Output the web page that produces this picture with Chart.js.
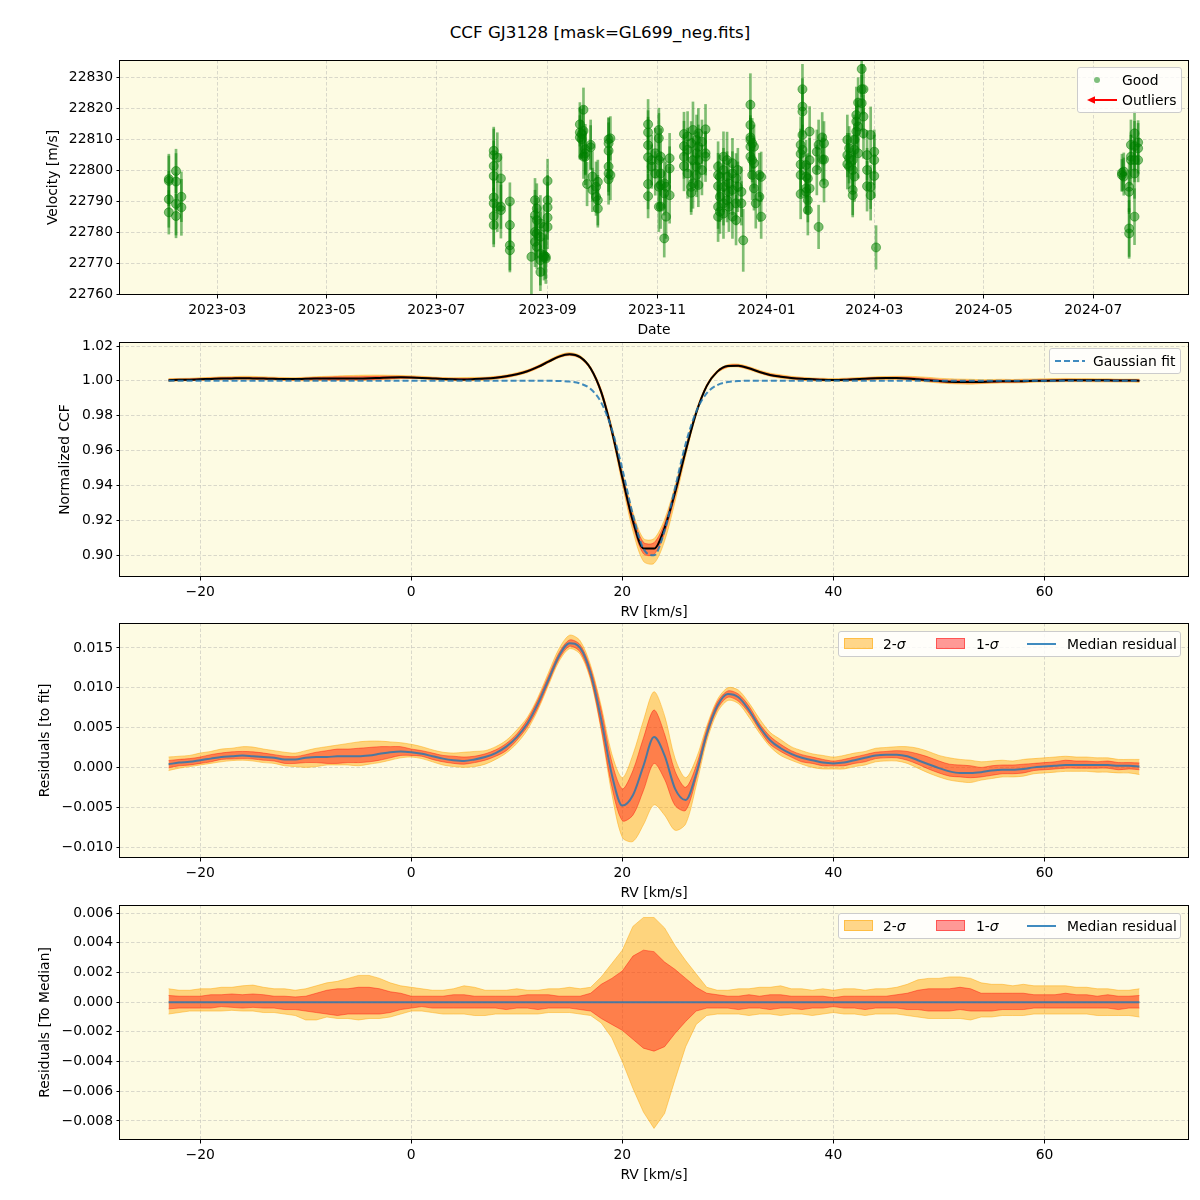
<!DOCTYPE html>
<html><head><meta charset="utf-8">
<script src="https://cdn.jsdelivr.net/npm/chart.js@4.4.0/dist/chart.umd.min.js"></script>
<style>
body{margin:0;background:#fff;width:1200px;height:1200px;position:relative;overflow:hidden;font-family:"DejaVu Sans",sans-serif;}
canvas.cv{position:absolute;left:0;}
#title{position:absolute;top:22px;left:0;width:1200px;text-align:center;font-size:16.7px;line-height:20px;color:#000;}
.legend{position:absolute;background:rgba(255,255,255,0.8);border:1px solid #cccccc;border-radius:3px;box-sizing:border-box;}
.lt{position:absolute;font-size:13.9px;line-height:16px;color:#000;white-space:nowrap;}
.patch{position:absolute;box-sizing:border-box;}
</style></head>
<body>
<div id="title">CCF GJ3128 [mask=GL699_neg.fits]</div>
<canvas id="c1" class="cv" width="1200" height="300" style="top:47px"></canvas>
<canvas id="c2" class="cv" width="1200" height="300" style="top:329px"></canvas>
<canvas id="c3" class="cv" width="1200" height="300" style="top:610px"></canvas>
<canvas id="c4" class="cv" width="1200" height="300" style="top:892px"></canvas>

<div class="legend" style="left:1077px;top:67px;width:105px;height:46px;">
  <span class="patch" style="left:16px;top:9px;width:6px;height:6px;border-radius:3px;background:rgba(0,128,0,0.5)"></span>
  <span class="lt" style="left:44px;top:4px">Good</span>
  <svg style="position:absolute;left:6px;top:26px" width="36" height="12"><line x1="33" y1="6" x2="7" y2="6" stroke="red" stroke-width="2"/><polygon points="3,6 11,2.2 11,9.8" fill="red"/></svg>
  <span class="lt" style="left:44px;top:24px">Outliers</span>
</div>
<div class="legend" style="left:1049px;top:348px;width:132px;height:26px;">
  <svg style="position:absolute;left:4px;top:7px" width="32" height="10"><line x1="1" y1="5" x2="31" y2="5" stroke="rgba(31,119,180,0.85)" stroke-width="2" stroke-dasharray="6,3"/></svg>
  <span class="lt" style="left:43px;top:4px">Gaussian fit</span>
</div>
<div class="legend" style="left:838px;top:631px;width:343px;height:26px;">
  <span class="patch" style="left:5px;top:6px;width:29px;height:11px;background:rgba(255,165,0,0.45);border:1px solid rgba(255,165,0,0.5)"></span>
  <span class="lt" style="left:44px;top:4px">2-<i>σ</i></span>
  <span class="patch" style="left:97px;top:6px;width:29px;height:11px;background:rgba(255,0,0,0.4);border:1px solid rgba(255,0,0,0.45)"></span>
  <span class="lt" style="left:137px;top:4px">1-<i>σ</i></span>
  <span class="patch" style="left:188px;top:11px;width:29px;height:2px;background:rgba(31,119,180,0.85)"></span>
  <span class="lt" style="left:228px;top:4px">Median residual</span>
</div>
<div class="legend" style="left:838px;top:913px;width:343px;height:26px;">
  <span class="patch" style="left:5px;top:6px;width:29px;height:11px;background:rgba(255,165,0,0.45);border:1px solid rgba(255,165,0,0.5)"></span>
  <span class="lt" style="left:44px;top:4px">2-<i>σ</i></span>
  <span class="patch" style="left:97px;top:6px;width:29px;height:11px;background:rgba(255,0,0,0.4);border:1px solid rgba(255,0,0,0.45)"></span>
  <span class="lt" style="left:137px;top:4px">1-<i>σ</i></span>
  <span class="patch" style="left:188px;top:11px;width:29px;height:2px;background:rgba(31,119,180,0.85)"></span>
  <span class="lt" style="left:228px;top:4px">Median residual</span>
</div>

<script>
// ---------------- DATA ----------------
// Panel 1: RV time series, grouped by night
const nightDates = ["2023-02-02","2023-02-06","2023-02-09","2023-08-02","2023-08-04","2023-08-06","2023-08-11","2023-08-23","2023-08-25","2023-08-26","2023-08-28","2023-08-30","2023-08-31","2023-09-01","2023-09-19","2023-09-20","2023-09-21","2023-09-22","2023-09-23","2023-09-25","2023-09-26","2023-09-28","2023-09-29","2023-10-05","2023-10-06","2023-10-27","2023-10-29","2023-10-31","2023-11-02","2023-11-03","2023-11-05","2023-11-06","2023-11-08","2023-11-16","2023-11-18","2023-11-20","2023-11-21","2023-11-23","2023-11-24","2023-11-26","2023-11-28","2023-12-05","2023-12-06","2023-12-08","2023-12-10","2023-12-11","2023-12-13","2023-12-15","2023-12-16","2023-12-18","2023-12-19","2023-12-23","2023-12-24","2023-12-25","2023-12-26","2023-12-28","2023-12-29","2024-01-20","2024-01-21","2024-01-23","2024-01-24","2024-01-25","2024-01-29","2024-01-30","2024-02-01","2024-02-02","2024-02-15","2024-02-16","2024-02-18","2024-02-19","2024-02-20","2024-02-21","2024-02-23","2024-02-24","2024-02-26","2024-02-28","2024-03-01","2024-03-02","2024-07-17","2024-07-18","2024-07-21","2024-07-22","2024-07-24","2024-07-26"];
const nightVel = [
[22797.2,22796.6,22790.7,22786.5],[22799.8,22796.4,22789.2,22785.3],[22791.5,22788.1],
[22806.3,22804.9,22801.4,22798.2,22791.3,22789.4,22785.3,22782.4],[22804.1,22788.3],[22797.4,22788.3,22787.2],
[22790.0,22782.4,22775.9,22774.3],[22772.2],[22790.4,22785.6,22780.2,22777.0],[22787.7,22784.0,22779.7,22775.4],
[22782.9,22778.6,22773.2,22771.1,22767.3],[22781.8,22772.7,22772.2],[22772.2,22771.6],[22796.6,22790.4,22788.1,22784.8,22781.8],
[22814.8,22812.2,22810.6],[22811.7,22810.0],[22819.5,22812.7,22804.4],[22806.8,22805.5,22804.4],[22795.6],
[22808.2,22807.4],[22798.0,22793.7],[22794.7,22791.5],[22796.3,22790.4,22787.7],
[22810.0,22808.7,22806.3,22801.2,22799.0,22797.1],[22810.3,22798.5],
[22814.8,22812.2,22808.1,22804.2,22795.6,22791.7],[22803.3,22801.2],[22805.5,22799.0],
[22813.0,22810.3,22803.3,22794.7,22788.3],[22804.4,22799.0,22795.3,22788.3],[22795.8,22792.6,22778.1],
[22794.7,22785.1],[22803.9,22800.6,22792.0],
[22811.7,22807.8,22804.4,22801.4],[22810.9,22806.6,22799.0],[22808.7,22794.7,22792.8],[22813.0,22803.3,22795.8],
[22809.8,22805.5,22801.2,22798.5],[22811.9,22807.6,22803.3,22795.3],[22809.2,22800.1],[22813.2,22805.5,22804.4],
[22801.2,22798.5,22794.9,22788.3,22785.1],[22797.9,22791.5,22786.7],[22804.4,22800.1,22794.7,22789.4,22786.1],
[22803.3,22798.0,22790.4],[22795.8,22793.1,22788.3],[22802.3,22799.0,22793.7,22785.1],[22797.4,22789.4,22784.0],
[22800.1,22794.7],[22793.1,22789.4],[22777.5],
[22821.1,22814.6,22810.6,22809.8,22807.6,22804.4],[22808.7,22803.3,22798.5],[22807.6,22802.3,22794.2],[22789.4],
[22798.5,22791.5],[22797.9,22785.1],
[22808.2,22805.3,22801.9,22798.5,22792.4],[22826.1,22820.5,22818.9,22811.4,22806.6],[22801.7,22798.0,22794.2,22793.1],
[22797.4,22790.4,22787.2],[22812.5,22803.3,22794.2],[22806.0,22800.1],[22808.2,22781.8],[22810.6,22803.5],
[22808.7,22803.5,22795.8],
[22809.8,22804.9,22802.0],[22807.1,22803.9,22801.2],[22803.3,22800.1,22793.7,22792.0],[22809.8,22806.6,22798.0],
[22817.8,22815.7,22812.5],[22821.8,22814.1,22805.5],[22832.6,22826.1,22821.6],[22826.1,22817.3,22811.9],
[22804.9,22800.1,22794.9],[22811.4,22794.7,22792.0],[22806.0,22803.3,22798.2],[22775.2],
[22799.2,22798.5],[22799.6,22798.0],[22794.7,22793.1,22781.3,22779.7],[22808.2,22804.4,22803.3],
[22811.9,22807.8,22803.3,22799.0,22785.1],[22809.0,22807.1,22803.3]
];
const nightErr = [
[8,8,9,7],[7,9,10,7],[8,9],
[7,9,8,8,10,8,9,7],[8,8],[8,7,9],
[6,7,8,7],[13],[7,8,9,8],[8,7,8,7],
[9,8,7,8,6],[7,8,6],[7,8],[7,8,8,7,7],
[7,8,7],[8,6],[7,8,7],[8,7,9],[7],
[8,7],[8,7],[8,6],[7,8,6],
[7,8,9,8,7,8],[7,8],
[8,7,9,7,8,7],[8,7],[8,7],
[7,8,8,7,8],[9,7,8,7],[8,7,6],
[8,7],[8,7,9],
[7,8,7,8],[8,7,8],[7,8,7],[9,7,8],
[8,7,8,7],[8,7,9,7],[7,8],[8,7,8],
[8,7,8,7,8],[7,8,7],[8,7,8,7,8],
[9,8,7],[8,7,8],[8,7,8,7],[8,7,8],
[7,8],[8,7],[10],
[10,8,7,7,8,7],[8,7,8],[7,8,7],[8],
[7,8],[8,7],
[9,8,8,7,8],[8,9,8,7,8],[8,7,8,7],
[8,7,8],[8,7,8],[7,8],[8,7],[8,7],
[7,8,6],
[8,7,8],[7,8,7],[8,7,8,7],[8,7,8],
[9,7,8],[8,7,8],[9,8,9],[8,7,8],
[8,7,8],[9,7,8],[7,8,7],[7],
[6,5],[6,6],[8,7,9,8],[8,7,8],
[7,8,7,8,9],[7,8,7]
];
const dateTickLabels = ["2023-03","2023-05","2023-07","2023-09","2023-11","2024-01","2024-03","2024-05","2024-07"];
const velTicks = [22760,22770,22780,22790,22800,22810,22820,22830];

// Panels 2-4: CCF profiles vs RV
const rv = [-23,-22,-21,-20,-19,-18,-17,-16,-15,-14,-13,-12,-11,-10,-9,-8,-7,-6,-5,-4,-3,-2,-1,0,1,2,3,4,5,6,7,8,9,10,11,12,13,14,15,16,17,18,19,20,21,22,23,24,25,26,27,28,29,30,31,32,33,34,35,36,37,38,39,40,41,42,43,44,45,46,47,48,49,50,51,52,53,54,55,56,57,58,59,60,61,62,63,64,65,66,67,68,69];
const ccfMedian = [1.0004,1.0006,1.0007,1.0009,1.0011,1.0013,1.0014,1.0015,1.0014,1.0013,1.0012,1.0010,1.0010,1.0012,1.0013,1.0013,1.0014,1.0014,1.0014,1.0015,1.0017,1.0019,1.0020,1.0019,1.0017,1.0014,1.0011,1.0009,1.0008,1.0010,1.0013,1.0018,1.0026,1.0038,1.0055,1.0080,1.0110,1.0139,1.0152,1.0136,1.0071,0.9935,0.9714,0.9445,0.9196,0.9038,0.9037,0.9155,0.9360,0.9598,0.9816,0.9971,1.0053,1.0085,1.0087,1.0072,1.0051,1.0034,1.0024,1.0017,1.0012,1.0009,1.0006,1.0005,1.0006,1.0009,1.0012,1.0015,1.0016,1.0016,1.0014,1.0009,1.0004,0.9999,0.9995,0.9993,0.9993,0.9994,0.9996,0.9997,0.9997,0.9998,1.0000,1.0001,1.0002,1.0003,1.0003,1.0003,1.0003,1.0003,1.0002,1.0002,1.0001];
const gaussFit = [1,1,1,1,1,1,1,1,1,1,1,1,1,1,1,1,1,1,1,1,1,1,1,1,1,1,1,1,1,1,1,1,1,1,1,1,1,0.9999,0.9996,0.9985,0.9953,0.9875,0.9723,0.9493,0.9231,0.9036,0.8999,0.9140,0.9387,0.9639,0.9824,0.9929,0.9976,0.9993,0.9999,1,1,1,1,1,1,1,1,1,1,1,1,1,1,1,1,1,1,1,1,1,1,1,1,1,1,1,1,1,1,1,1,1,1,1,1,1,1];
const residMedian = [0.0004,0.0006,0.0007,0.0009,0.0011,0.0013,0.0014,0.0015,0.0014,0.0013,0.0012,0.0010,0.0010,0.0012,0.0013,0.0013,0.0014,0.0014,0.0014,0.0015,0.0017,0.0019,0.0020,0.0019,0.0017,0.0014,0.0011,0.0009,0.0008,0.0010,0.0013,0.0018,0.0026,0.0038,0.0055,0.0080,0.0110,0.0140,0.0156,0.0150,0.0118,0.0060,-0.0009,-0.0048,-0.0035,0.0002,0.0038,0.0015,-0.0027,-0.0041,-0.0008,0.0042,0.0077,0.0092,0.0088,0.0072,0.0051,0.0034,0.0024,0.0017,0.0012,0.0009,0.0006,0.0005,0.0006,0.0009,0.0012,0.0015,0.0016,0.0016,0.0014,0.0009,0.0004,-0.0001,-0.0005,-0.0007,-0.0007,-0.0006,-0.0004,-0.0003,-0.0003,-0.0002,0.0000,0.0001,0.0002,0.0003,0.0003,0.0003,0.0003,0.0003,0.0002,0.0002,0.0001];
// spread of residuals around the median (panel 4)
const sig2Hi = [0.0009,0.0008,0.0008,0.0009,0.0009,0.0010,0.0010,0.0011,0.00115,0.0010,0.0009,0.0009,0.0008,0.0009,0.0011,0.0013,0.0014,0.0016,0.0018,0.0018,0.0016,0.0013,0.0011,0.0010,0.0009,0.0008,0.0008,0.0009,0.0011,0.0010,0.0008,0.0008,0.0008,0.0009,0.0008,0.0008,0.0009,0.0009,0.0010,0.0009,0.0010,0.0017,0.0026,0.0035,0.0051,0.0057,0.0057,0.0050,0.0038,0.0028,0.0019,0.0010,0.0008,0.0008,0.0009,0.0009,0.0010,0.0010,0.0011,0.0009,0.0009,0.0008,0.0009,0.0008,0.0009,0.0009,0.0008,0.0009,0.0009,0.0010,0.0012,0.0015,0.0016,0.0016,0.0017,0.0017,0.0016,0.0013,0.0012,0.0012,0.0011,0.0012,0.0011,0.0011,0.0011,0.0011,0.0010,0.0010,0.0009,0.0009,0.0008,0.0008,0.0009];
const sig1Hi = [0.00045,0.0004,0.0004,0.0004,0.0005,0.0005,0.00055,0.0005,0.00055,0.0005,0.0004,0.0004,0.00035,0.0004,0.0006,0.0008,0.0009,0.0009,0.0010,0.0010,0.0009,0.0007,0.0006,0.0004,0.0004,0.0004,0.0004,0.0005,0.0005,0.0004,0.0004,0.0004,0.0004,0.0004,0.0005,0.0005,0.0005,0.0004,0.0004,0.0004,0.0006,0.0012,0.0016,0.0021,0.0031,0.0035,0.0034,0.0027,0.0022,0.0016,0.0010,0.0006,0.0005,0.0004,0.0004,0.0005,0.0004,0.0005,0.0005,0.0004,0.0004,0.0004,0.0004,0.0003,0.0004,0.0004,0.0004,0.0004,0.0004,0.0005,0.0006,0.0008,0.0009,0.0009,0.0009,0.0010,0.0009,0.0006,0.0006,0.0006,0.0006,0.0006,0.0005,0.0005,0.0005,0.0006,0.0005,0.0005,0.0004,0.0005,0.0004,0.0004,0.00045];
const sig1Lo = [-0.00045,-0.0004,-0.0004,-0.0004,-0.0004,-0.0003,-0.00035,-0.0004,-0.00035,-0.0004,-0.0004,-0.0005,-0.0005,-0.0006,-0.0007,-0.0008,-0.0009,-0.0008,-0.0008,-0.0008,-0.0008,-0.0007,-0.0005,-0.0004,-0.0003,-0.0004,-0.0004,-0.0004,-0.0004,-0.0004,-0.0004,-0.0004,-0.0005,-0.0004,-0.0004,-0.0005,-0.0004,-0.0004,-0.0004,-0.0005,-0.0006,-0.0011,-0.0015,-0.0019,-0.0025,-0.0031,-0.0033,-0.0030,-0.0021,-0.0013,-0.0006,-0.0004,-0.0004,-0.0004,-0.0005,-0.0004,-0.0004,-0.0005,-0.0004,-0.0004,-0.0005,-0.0004,-0.0004,-0.0003,-0.0004,-0.0004,-0.0005,-0.0004,-0.0004,-0.0004,-0.0005,-0.0005,-0.0006,-0.0006,-0.0006,-0.0005,-0.0006,-0.0006,-0.0006,-0.0005,-0.0005,-0.0005,-0.0004,-0.0004,-0.0004,-0.0004,-0.0004,-0.0004,-0.0004,-0.0004,-0.0005,-0.0004,-0.0004];
const sig2Lo = [-0.0008,-0.0007,-0.0006,-0.0006,-0.0006,-0.0006,-0.00055,-0.0006,-0.0006,-0.0007,-0.0007,-0.0008,-0.0009,-0.0012,-0.0012,-0.0010,-0.0011,-0.0011,-0.0012,-0.0011,-0.0011,-0.0010,-0.0008,-0.0006,-0.0006,-0.0007,-0.0008,-0.0008,-0.0008,-0.0009,-0.0009,-0.0008,-0.0008,-0.0008,-0.0008,-0.0008,-0.0007,-0.0007,-0.0007,-0.0008,-0.0009,-0.0014,-0.0024,-0.0040,-0.0058,-0.0074,-0.0085,-0.0075,-0.0052,-0.0030,-0.0015,-0.0009,-0.0008,-0.0008,-0.0008,-0.0009,-0.0008,-0.0008,-0.0009,-0.0008,-0.0008,-0.0009,-0.0008,-0.0007,-0.0008,-0.0008,-0.0009,-0.0008,-0.0008,-0.0008,-0.0009,-0.0010,-0.0011,-0.0011,-0.0011,-0.0011,-0.0012,-0.0010,-0.0010,-0.0009,-0.0009,-0.0009,-0.0008,-0.0008,-0.0008,-0.0008,-0.0008,-0.0008,-0.0009,-0.0009,-0.0009,-0.0009,-0.0010];
const medianToMedian = [0, 0]; // flat median line, drawn from first to last RV
const rvTicks = [-20,0,20,40,60];
const ccfTicks = [0.90,0.92,0.94,0.96,0.98,1.00,1.02];
const resFitTicks = [-0.010,-0.005,0.000,0.005,0.010,0.015];
const resMedTicks = [-0.008,-0.006,-0.004,-0.002,0.000,0.002,0.004,0.006];

// ---------------- STYLE / HELPERS ----------------
const BG = '#fdfbe3';
const FONT = {family: "'DejaVu Sans', sans-serif", size: 13.9};
const C2 = 'rgba(255,165,0,0.45)';
const C1 = 'rgba(255,0,0,0.4)';
const CBLUE = 'rgba(31,119,180,0.85)';
const minus = s => s.replace('-', '\u2212');

const framePlugin = {
  id: 'frame',
  beforeDraw(chart) {
    const {ctx, chartArea: a} = chart;
    ctx.save(); ctx.fillStyle = BG; ctx.fillRect(a.left, a.top, a.right - a.left, a.bottom - a.top); ctx.restore();
  },
  afterDraw(chart) {
    const {ctx, chartArea: a} = chart;
    ctx.save(); ctx.strokeStyle = '#000'; ctx.lineWidth = 1;
    ctx.strokeRect(Math.round(a.left) - 0.5, Math.round(a.top) + 0.5, Math.round(a.right - a.left) + 1, Math.round(a.bottom - a.top) - 1);
    ctx.restore();
  }
};

function axis(o) {
  return {
    type: 'linear', min: o.min, max: o.max, offset: false,
    afterBuildTicks: s => { s.ticks = o.ticks.map(v => ({value: v})); },
    afterFit: s => { if (o.isY) s.width = 120; else s.height = 52; },
    ticks: {autoSkip: false, maxRotation: 0, minRotation: 0, color: '#000', font: FONT, padding: 3.5, callback: v => o.fmt(v)},
    grid: {offset: false, color: 'rgba(170,170,170,0.55)', lineWidth: 0.8, drawTicks: true, tickLength: 3.5, tickColor: '#000', tickWidth: 1, tickBorderDash: []},
    border: {display: false, dash: [3.5, 2]},
    title: {display: true, text: o.title, color: '#000', font: FONT,
      padding: o.isY ? {top: o.titlePad, bottom: 0} : {top: 0, bottom: o.titlePad}}
  };
}
function baseOptions(xs, ys) {
  return {
    responsive: false, animation: false, devicePixelRatio: 1,
    layout: {padding: {top: 13, left: 0, right: 12, bottom: 0}},
    plugins: {legend: {display: false}, tooltip: {enabled: false}},
    scales: {x: xs, y: ys}
  };
}
const zip = arr => rv.map((x, i) => ({x, y: arr[i]}));
const shifted = (base, sp) => rv.map((x, i) => ({x, y: base[i] + sp[i]}));
const rvFmt = v => v < 0 ? '\u2212' + Math.abs(v) : String(v);
const rvAxis = () => axis({min: -27.6, max: 73.6, ticks: rvTicks, fmt: rvFmt, title: 'RV [km/s]', titlePad: 8.66});
function band(data, color, fillTo, order, tension) {
  return {data, borderColor: color, backgroundColor: color, borderWidth: 1, pointRadius: 0,
    fill: fillTo, order, tension: tension || 0};
}

// ---------------- PANEL 1 ----------------
const obsPoints = [], obsBars = [];
nightDates.forEach((d, i) => {
  const x = Date.parse(d + 'T00:00:00Z');
  nightVel[i].forEach((v, j) => {
    const e = (nightErr[i] && nightErr[i][j] !== undefined) ? nightErr[i][j] : 8;
    obsPoints.push({x, y: v});
    obsBars.push({x, y: [v - e, v + e]});
  });
});
const dateTickValues = dateTickLabels.map(l => Date.parse(l + '-01T00:00:00Z'));
new Chart(document.getElementById('c1'), {
  type: 'scatter',
  data: {datasets: [
    {type: 'scatter', data: obsPoints, pointRadius: 4.5, pointBackgroundColor: 'rgba(0,128,0,0.5)', pointBorderColor: 'rgba(0,128,0,0.5)', pointBorderWidth: 1, order: 1},
    {type: 'bar', data: obsBars, backgroundColor: 'rgba(0,128,0,0.5)', borderWidth: 0, barThickness: 2, order: 2}
  ]},
  options: baseOptions(
    axis({min: Date.parse('2023-01-05T19:00:00Z'), max: Date.parse('2024-08-22T19:00:00Z'), ticks: dateTickValues,
      fmt: v => dateTickLabels[dateTickValues.indexOf(v)] || '', title: 'Date', titlePad: 8.66}),
    axis({min: 22759.9, max: 22835.5, ticks: velTicks, fmt: v => String(v), title: 'Velocity [m/s]', isY: true, titlePad: 44.7})
  ),
  plugins: [framePlugin]
});

// ---------------- PANEL 2 ----------------
new Chart(document.getElementById('c2'), {
  type: 'line',
  data: {datasets: [
    band(shifted(ccfMedian, sig2Hi), C2, '+1', 6, 0.3),
    band(shifted(ccfMedian, sig2Lo), C2, false, 6, 0.3),
    band(shifted(ccfMedian, sig1Hi), C1, '+1', 5, 0.3),
    band(shifted(ccfMedian, sig1Lo), C1, false, 5, 0.3),
    {data: zip(ccfMedian), borderColor: '#000', borderWidth: 2, pointRadius: 0, fill: false, order: 2, cubicInterpolationMode: 'monotone'},
    {data: zip(gaussFit), borderColor: CBLUE, borderWidth: 2, borderDash: [6, 3], pointRadius: 0, fill: false, order: 1, cubicInterpolationMode: 'monotone'}
  ]},
  options: baseOptions(rvAxis(),
    axis({min: 0.8874, max: 1.0223, ticks: ccfTicks, fmt: v => v.toFixed(2), title: 'Normalized CCF', isY: true, titlePad: 56.7})),
  plugins: [framePlugin]
});

// ---------------- PANEL 3 ----------------
new Chart(document.getElementById('c3'), {
  type: 'line',
  data: {datasets: [
    band(shifted(residMedian, sig2Hi), C2, '+1', 6, 0.3),
    band(shifted(residMedian, sig2Lo), C2, false, 6, 0.3),
    band(shifted(residMedian, sig1Hi), C1, '+1', 5, 0.3),
    band(shifted(residMedian, sig1Lo), C1, false, 5, 0.3),
    {data: zip(residMedian), borderColor: 'rgba(31,119,180,0.8)', borderWidth: 2, pointRadius: 0, fill: false, order: 1, cubicInterpolationMode: 'monotone'}
  ]},
  options: baseOptions(rvAxis(),
    axis({min: -0.01138, max: 0.01813, ticks: resFitTicks, fmt: v => minus(v.toFixed(3)), title: 'Residuals [to fit]', isY: true, titlePad: 36.7})),
  plugins: [framePlugin]
});

// ---------------- PANEL 4 ----------------
new Chart(document.getElementById('c4'), {
  type: 'line',
  data: {datasets: [
    band(zip(sig2Hi), C2, '+1', 6),
    band(zip(sig2Lo), C2, false, 6),
    band(zip(sig1Hi), C1, '+1', 5),
    band(zip(sig1Lo), C1, false, 5),
    {data: [{x: rv[0], y: medianToMedian[0]}, {x: rv[rv.length - 1], y: medianToMedian[1]}], borderColor: 'rgba(31,119,180,0.8)', borderWidth: 2, pointRadius: 0, fill: false, order: 1}
  ]},
  options: baseOptions(rvAxis(),
    axis({min: -0.00928, max: 0.00654, ticks: resMedTicks, fmt: v => minus(v.toFixed(3)), title: 'Residuals [To Median]', isY: true, titlePad: 36.7})),
  plugins: [framePlugin]
});
</script>
</body></html>
